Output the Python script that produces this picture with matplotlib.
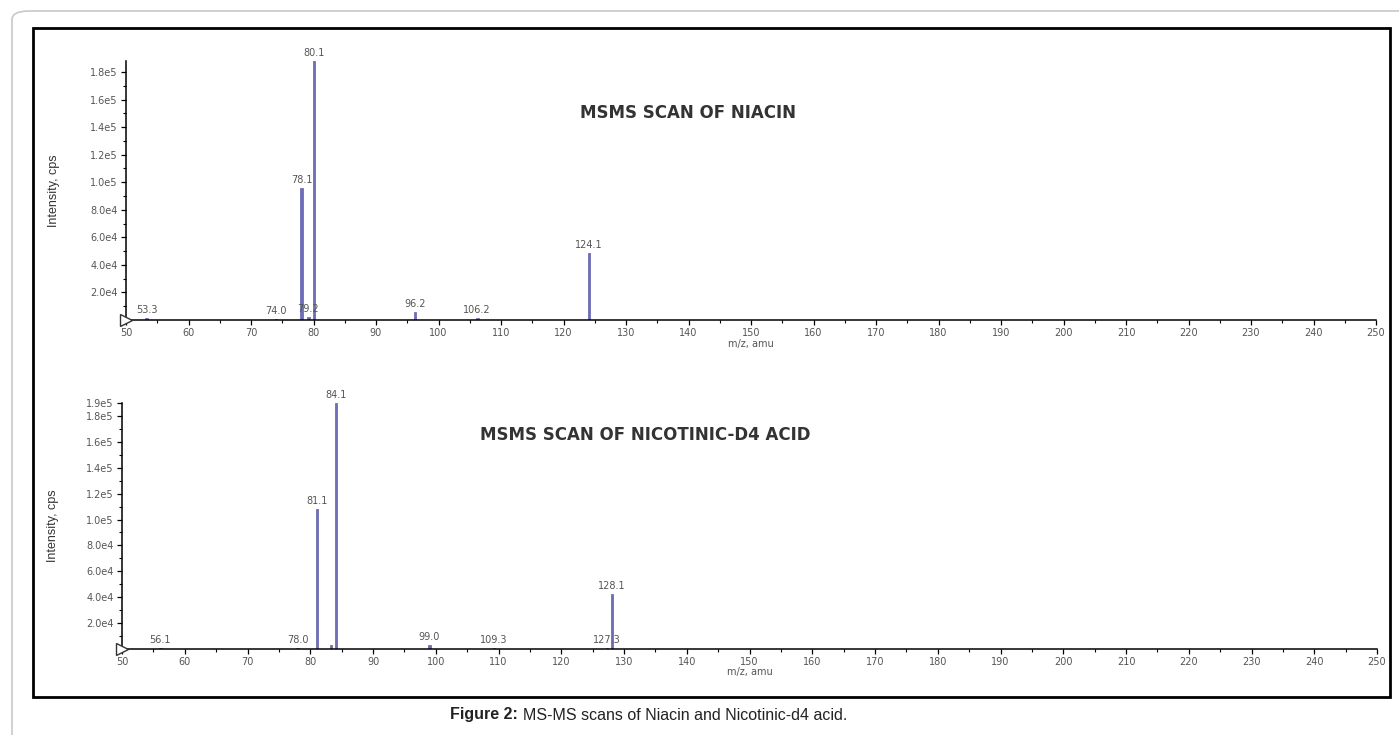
import numpy as np
import matplotlib.pyplot as plt
from matplotlib.patches import Rectangle, FancyBboxPatch
from matplotlib.ticker import MultipleLocator, FuncFormatter

# peak lists
niacin_mz = [53.3, 74.0, 78.1, 79.2, 80.1, 96.2, 106.2, 124.1]
niacin_int = [1200, 600, 96000, 2000, 188000, 5800, 1500, 48500]
niacin_lbl = ['53.3', '74.0', '78.1', '79.2', '80.1', '96.2', '106.2', '124.1']

d4_mz = [56.1, 78.0, 81.1, 83.3, 84.1, 99.0, 109.3, 127.3, 128.1]
d4_int = [500, 500, 108000, 3000, 190000, 3200, 500, 600, 42500]
d4_lbl = ['56.1', '78.0', '81.1', '', '84.1', '99.0', '109.3', '127.3', '128.1']

ticks_top = [2e4, 4e4, 6e4, 8e4, 1e5, 1.2e5, 1.4e5, 1.6e5, 1.8e5]
ticks_bot = [2e4, 4e4, 6e4, 8e4, 1e5, 1.2e5, 1.4e5, 1.6e5, 1.8e5, 1.9e5]

plt.rcParams['font.family'] = ['Liberation Sans', 'DejaVu Sans']
barcol = '#6e6eb6'
txtcol = '#555555'
smallfont = 'DejaVu Sans'


def sci(v, pos):
    if v <= 0:
        return ''
    e = int(np.floor(np.log10(v)))
    return '%.1fe%d' % (v / 10 ** e, e)


def panel(ax, mz, inten, lbl, ymax, yt, title, tx, ty):
    ax.bar(mz, inten, width=0.4, color=barcol, edgecolor=barcol, linewidth=0.6)
    for m, h, t in zip(mz, inten, lbl):
        if t:
            ax.text(m, h + ymax * 0.012, t, ha='center', va='bottom', fontsize=7,
                    color=txtcol, family=smallfont)
    ax.set_xlim(50, 250)
    ax.set_ylim(0, ymax)
    ax.set_xticks(np.arange(50, 251, 10))
    ax.xaxis.set_minor_locator(MultipleLocator(5))
    ax.set_yticks(yt)
    ax.yaxis.set_minor_locator(MultipleLocator(1e4))
    ax.yaxis.set_major_formatter(FuncFormatter(sci))
    ax.tick_params(which='major', length=3.5, width=0.9, labelsize=7, labelcolor=txtcol, pad=2.5)
    ax.tick_params(which='minor', length=2, width=0.8)
    for lab in ax.get_xticklabels() + ax.get_yticklabels():
        lab.set_family(smallfont)
    for s in ['top', 'right']:
        ax.spines[s].set_visible(False)
    for s in ['left', 'bottom']:
        ax.spines[s].set_linewidth(1.1)
    ax.set_xlabel('m/z, amu', fontsize=7, color=txtcol, family=smallfont)
    ax.xaxis.set_label_coords(0.5, -0.075)
    ax.set_ylabel('Intensity, cps', fontsize=9, color='#333333')
    ax.plot([50], [0], marker='>', markersize=8, markerfacecolor='white',
            markeredgecolor='#333333', clip_on=False, zorder=5)
    ax.text(tx, ty, title, transform=ax.transAxes, fontsize=12, fontweight='bold',
            family='DejaVu Sans', color='#333333', ha='center', va='center')


fig = plt.figure(figsize=(13.99, 7.35), dpi=100)

fig.patches.append(FancyBboxPatch((12 / 1399, -0.05), 1.05, 1 - 11 / 735 + 0.05,
                                  boxstyle='round,pad=0,rounding_size=0.012',
                                  transform=fig.transFigure, fill=False,
                                  edgecolor='#c8c8c8', linewidth=1.2))
fig.patches.append(Rectangle((33 / 1399, 1 - 697 / 735), (1390 - 33) / 1399, (697 - 28) / 735,
                             transform=fig.transFigure, fill=False,
                             edgecolor='black', linewidth=2))

ax1 = fig.add_axes([126 / 1399, 1 - 320 / 735, (1376 - 126) / 1399, (320 - 61) / 735])
panel(ax1, niacin_mz, niacin_int, niacin_lbl, 1.88e5, ticks_top,
      'MSMS SCAN OF NIACIN', 0.45, 0.80)
ax1.yaxis.set_label_coords(-0.053, 0.5)

ax2 = fig.add_axes([122 / 1399, 1 - 649 / 735, (1377 - 122) / 1399, (649 - 403) / 735])
panel(ax2, d4_mz, d4_int, d4_lbl, 1.9e5, ticks_bot,
      'MSMS SCAN OF NICOTINIC-D4 ACID', 0.417, 0.87)
ax2.yaxis.set_label_coords(-0.05, 0.5)

# caption: bold lead-in + normal text
cy = 1 - 715 / 735
fig.text(518 / 1399, cy, 'Figure 2:', ha='right', va='center', fontsize=11.5,
         fontweight='bold', color='#222222')
fig.text(523 / 1399, cy, 'MS-MS scans of Niacin and Nicotinic-d4 acid.', ha='left',
         va='center', fontsize=11.5, color='#222222')

fig.savefig('out.png', dpi=100)
